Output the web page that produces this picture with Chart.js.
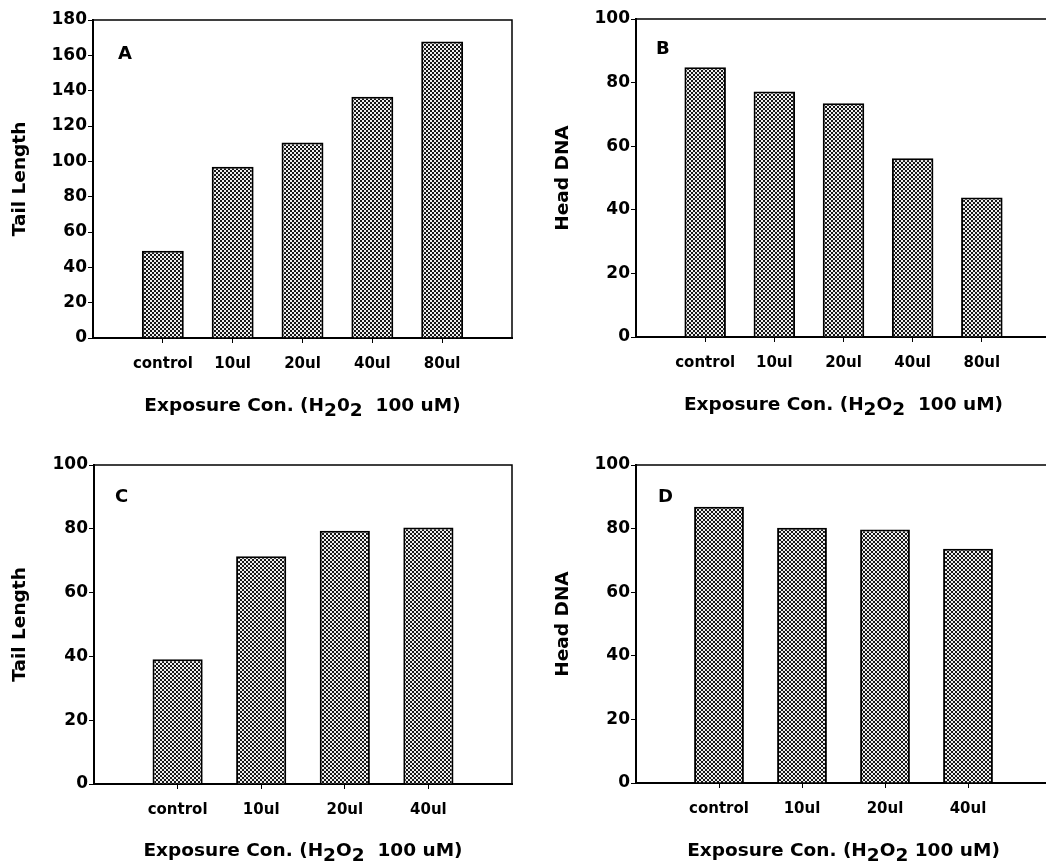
<!DOCTYPE html>
<html>
<head>
<meta charset="utf-8">
<script src="https://cdn.jsdelivr.net/npm/chart.js@4.4.0/dist/chart.umd.min.js"></script>
<style>
  body { margin: 0; background: #fff; }
  #page { position: relative; width: 1046px; height: 862px; overflow: hidden; background: #fff; }
  canvas { position: absolute; }
</style>
</head>
<body>
<div id="page">
  <canvas id="chartA" width="530" height="431" style="left:0px;top:0px"></canvas>
  <canvas id="chartB" width="540" height="431" style="left:523px;top:0px"></canvas>
  <canvas id="chartC" width="530" height="431" style="left:0px;top:431px"></canvas>
  <canvas id="chartD" width="540" height="431" style="left:523px;top:431px"></canvas>
</div>
<script>
// values
const dosesAB = ['control', '10ul', '20ul', '40ul', '80ul'];
const dosesCD = ['control', '10ul', '20ul', '40ul'];
const tailLengthA = [49.4, 97.0, 110.6, 136.6, 167.8];
const headDnaB = [84.8, 77.2, 73.5, 56.2, 43.9];
const tailLengthC = [39.1, 71.4, 79.4, 80.4];
const headDnaD = [86.9, 80.3, 79.7, 73.7];
const ticks180 = [0, 20, 40, 60, 80, 100, 120, 140, 160, 180];
const ticks100 = [0, 20, 40, 60, 80, 100];

Chart.defaults.font.family = '"DejaVu Sans", Arial, sans-serif';
Chart.defaults.font.weight = 'bold';
Chart.defaults.color = '#000';

// dotted fill like the old scanned bars
function makeDots(ctx) {
    const c = document.createElement('canvas');
    c.width = 4; c.height = 4;
    const g = c.getContext('2d');
    g.fillStyle = '#eeeeee';
    g.fillRect(0, 0, 4, 4);
    g.fillStyle = '#161616';
    g.fillRect(0, 0, 2, 2);
    g.fillRect(2, 2, 2, 2);
    return ctx.createPattern(c, 'repeat');
}

const panelDecor = {
    id: 'panelDecor',
    afterDraw(chart, args, opts) {
        const ctx = chart.ctx;
        const a = chart.chartArea;
        ctx.save();
        ctx.strokeStyle = '#000';
        ctx.lineWidth = 1.5;
        ctx.beginPath();
        ctx.moveTo(a.left, a.top);
        ctx.lineTo(a.right, a.top);
        ctx.lineTo(a.right, a.bottom);
        ctx.stroke();

        ctx.fillStyle = '#000';
        ctx.textBaseline = 'alphabetic';
        ctx.textAlign = 'left';
        ctx.font = 'bold 18px "DejaVu Sans"';
        ctx.fillText(opts.letter, opts.letterX, opts.letterY);

        ctx.font = 'bold 18.5px "DejaVu Sans"';
        let total = 0;
        opts.title.forEach(p => { total += ctx.measureText(p.text).width; });
        let x = (a.left + a.right) / 2 - total / 2;
        opts.title.forEach(p => {
            ctx.fillText(p.text, x, opts.titleY + (p.sub ? 5 : 0));
            x += ctx.measureText(p.text).width;
        });
        ctx.restore();
    }
};

function makePanel(id, doses, values, yTicks, yTitle, box, decor) {
    const canvas = document.getElementById(id);
    const ctx = canvas.getContext('2d');
    const labels = [''].concat(doses, ['']);
    const data = [null].concat(values, [null]);
    const last = labels.length - 1;

    return new Chart(ctx, {
        type: 'bar',
        data: {
            labels: labels,
            datasets: [{
                data: data,
                backgroundColor: makeDots(ctx),
                borderColor: '#000',
                borderWidth: 2,
                barPercentage: 0.6,
                categoryPercentage: 1.0
            }]
        },
        options: {
            responsive: false,
            animation: false,
            layout: { padding: { left: 0, top: box.top, right: canvas.width - box.right, bottom: 0 } },
            plugins: {
                legend: { display: false },
                tooltip: { enabled: false },
                panelDecor: decor
            },
            scales: {
                x: {
                    offset: false,
                    afterFit: s => { s.height = canvas.height - box.bottom; },
                    border: { display: true, color: '#000', width: 2 },
                    grid: {
                        offset: false,
                        drawOnChartArea: false,
                        drawTicks: true,
                        tickLength: 5,
                        lineWidth: 1,
                        tickColor: c => (c.index === 0 || c.index === last) ? 'rgba(0,0,0,0)' : '#000'
                    },
                    ticks: { font: { size: 15, weight: 'bold' }, color: '#000', padding: 12, maxRotation: 0, autoSkip: false }
                },
                y: {
                    min: 0,
                    max: yTicks[yTicks.length - 1],
                    afterFit: s => { s.width = box.left; },
                    afterBuildTicks: s => { s.ticks = yTicks.map(v => ({ value: v })); },
                    border: { display: true, color: '#000', width: 2 },
                    grid: { drawOnChartArea: false, drawTicks: true, tickLength: 5, lineWidth: 1, tickColor: '#000' },
                    ticks: { font: { size: 17, weight: 'bold' }, color: '#000', padding: 1 },
                    title: {
                        display: true,
                        text: yTitle,
                        font: { size: 18.5, weight: 'bold' },
                        color: '#000',
                        padding: { top: box.titleX - 11, bottom: 0 }
                    }
                }
            }
        },
        plugins: [panelDecor]
    });
}

makePanel('chartA', dosesAB, tailLengthA, ticks180, 'Tail Length',
    { left: 93, top: 20, right: 512, bottom: 338, titleX: 20 },
    { letter: 'A', letterX: 118, letterY: 59, titleY: 411,
      title: [{ text: 'Exposure Con. (H' }, { text: '2', sub: true }, { text: '0' }, { text: '2', sub: true }, { text: '  100 uM)' }] });

makePanel('chartB', dosesAB, headDnaB, ticks100, 'Head DNA',
    { left: 113, top: 19, right: 531, bottom: 337, titleX: 40 },
    { letter: 'B', letterX: 133, letterY: 54, titleY: 410,
      title: [{ text: 'Exposure Con. (H' }, { text: '2', sub: true }, { text: 'O' }, { text: '2', sub: true }, { text: '  100 uM)' }] });

makePanel('chartC', dosesCD, tailLengthC, ticks100, 'Tail Length',
    { left: 94, top: 34, right: 512, bottom: 353, titleX: 20 },
    { letter: 'C', letterX: 115, letterY: 71, titleY: 425,
      title: [{ text: 'Exposure Con. (H' }, { text: '2', sub: true }, { text: 'O' }, { text: '2', sub: true }, { text: '  100 uM)' }] });

makePanel('chartD', dosesCD, headDnaD, ticks100, 'Head DNA',
    { left: 113, top: 34, right: 532, bottom: 352, titleX: 40 },
    { letter: 'D', letterX: 135, letterY: 71, titleY: 425,
      title: [{ text: 'Exposure Con. (H' }, { text: '2', sub: true }, { text: 'O' }, { text: '2', sub: true }, { text: ' 100 uM)' }] });
</script>
</body>
</html>
